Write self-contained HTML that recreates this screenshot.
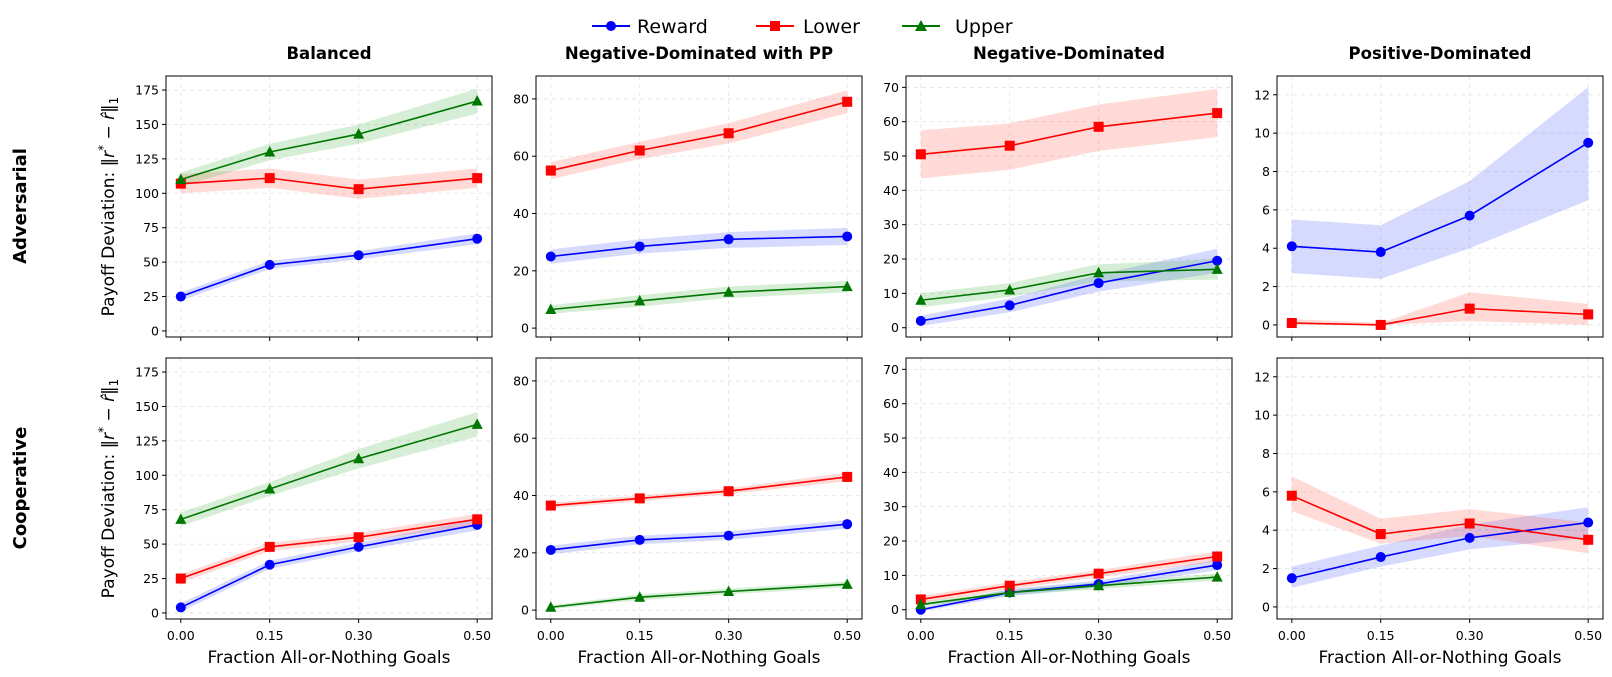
<!DOCTYPE html>
<html><head><meta charset="utf-8"><style>
html,body{margin:0;padding:0;background:#fff;}
svg{display:block;font-family:"DejaVu Sans","Liberation Sans",sans-serif;}
</style></head><body>
<svg id="chart" width="1612" height="677" viewBox="0 0 1612 677">
<g>
  <g>
    <line x1="592" y1="26" x2="630" y2="26" stroke="#0000ff" stroke-width="2"/><circle cx="611" cy="26" r="5" fill="#0000ff"/>
    <text x="637" y="33" font-size="19" fill="#000">Reward</text></g>
  <g>
    <line x1="756" y1="26" x2="794" y2="26" stroke="#ff0000" stroke-width="2"/><rect x="770" y="21" width="10" height="10" fill="#ff0000"/>
    <text x="803" y="33" font-size="19" fill="#000">Lower</text></g>
  <g>
    <line x1="902" y1="26" x2="940" y2="26" stroke="#007700" stroke-width="2"/><polygon points="921,20 927,31 915,31" fill="#007700"/>
    <text x="955" y="33" font-size="19" fill="#000">Upper</text></g>
</g>
<text transform="translate(26,206) rotate(-90)" text-anchor="middle" font-size="18" font-weight="bold">Adversarial</text>
<text transform="translate(26,488) rotate(-90)" text-anchor="middle" font-size="18" font-weight="bold">Cooperative</text>
<g id="panels"></g>
</svg>
<script>
const xValues=[0,0.15,0.30,0.50];
const xTickLabels=["0.00","0.15","0.30","0.50"];
const titles=["Balanced","Negative-Dominated with PP","Negative-Dominated","Positive-Dominated"];
const yTicks=[[0,25,50,75,100,125,150,175],[0,20,40,60,80],[0,10,20,30,40,50,60,70],[0,2,4,6,8,10,12]];
const yLims=[[-4.4,185.2],[-3.1,88],[-2.7,73.3],[-0.63,12.98]];
// Adversarial row
const advBalR=[25,48,55,67], advBalRlo=[22,45,52,63], advBalRhi=[28,51,58,71];
const advBalL=[107,111,103,111], advBalLlo=[100,104,96,104], advBalLhi=[114,118,110,118];
const advBalU=[110,130,143,167], advBalUlo=[105,124,136,158], advBalUhi=[115,136,150,176];
const advPPR=[25,28.5,31,32], advPPRlo=[22.5,26,28,29], advPPRhi=[27.5,31,33.5,35];
const advPPL=[55,62,68,79], advPPLlo=[52,59,64.5,75], advPPLhi=[58,65,71.5,83];
const advPPU=[6.5,9.5,12.5,14.5], advPPUlo=[5,7.5,10.5,12.5], advPPUhi=[8,11.5,14.5,16.5];
const advNegR=[2,6.5,13,19.5], advNegRlo=[0.5,4.5,10.5,16], advNegRhi=[3.5,8.5,15.5,23];
const advNegL=[50.5,53,58.5,62.5], advNegLlo=[43.5,46,51.5,55.5], advNegLhi=[57.5,59.5,65,69.5];
const advNegU=[8,11,16,17], advNegUlo=[6,9,13.5,14], advNegUhi=[10,13,18.5,20];
const advPosR=[4.1,3.8,5.7,9.5], advPosRlo=[2.7,2.4,4,6.5], advPosRhi=[5.5,5.2,7.5,12.4];
const advPosL=[0.1,0,0.85,0.55], advPosLlo=[0,0,0.2,0], advPosLhi=[0.3,0.1,1.7,1.1];
// Cooperative row
const coBalR=[4,35,48,64], coBalRlo=[1,32,45,60], coBalRhi=[7,38,51,68];
const coBalL=[25,48,55,68], coBalLlo=[22,45,52,64], coBalLhi=[28,51,58,72];
const coBalU=[68,90,112,137], coBalUlo=[63,85,105,128], coBalUhi=[73,95,119,146];
const coPPR=[21,24.5,26,30], coPPRlo=[19.5,23,24.5,28.5], coPPRhi=[22.5,26,27.5,31.5];
const coPPL=[36.5,39,41.5,46.5], coPPLlo=[35.5,38,40.5,45], coPPLhi=[37.5,40,42.5,48];
const coPPU=[1,4.5,6.5,9], coPPUlo=[0.3,3.5,5.5,8], coPPUhi=[1.7,5.5,7.5,10];
const coNegR=[0,5,7.5,13], coNegRlo=[-0.5,4,6.5,11.5], coNegRhi=[0.5,6,8.5,14.5];
const coNegL=[3,7,10.5,15.5], coNegLlo=[2,6,9.5,14], coNegLhi=[4,8,11.5,17];
const coNegU=[1.5,5,7,9.5], coNegUlo=[0.8,4.2,6,8.5], coNegUhi=[2.2,5.8,8,10.5];
const coPosR=[1.5,2.6,3.6,4.4], coPosRlo=[1,2.1,3,3.6], coPosRhi=[2.1,3.2,4.3,5.2];
const coPosL=[5.8,3.8,4.35,3.5], coPosLlo=[5,3.3,3.7,2.8], coPosLhi=[6.8,4.6,5.1,4.4];

const panelsData=[
 [[advBalR,advBalRlo,advBalRhi],[advBalL,advBalLlo,advBalLhi],[advBalU,advBalUlo,advBalUhi]],
 [[advPPR,advPPRlo,advPPRhi],[advPPL,advPPLlo,advPPLhi],[advPPU,advPPUlo,advPPUhi]],
 [[advNegR,advNegRlo,advNegRhi],[advNegL,advNegLlo,advNegLhi],[advNegU,advNegUlo,advNegUhi]],
 [[advPosR,advPosRlo,advPosRhi],[advPosL,advPosLlo,advPosLhi],null],
 [[coBalR,coBalRlo,coBalRhi],[coBalL,coBalLlo,coBalLhi],[coBalU,coBalUlo,coBalUhi]],
 [[coPPR,coPPRlo,coPPRhi],[coPPL,coPPLlo,coPPLhi],[coPPU,coPPUlo,coPPUhi]],
 [[coNegR,coNegRlo,coNegRhi],[coNegL,coNegLlo,coNegLhi],[coNegU,coNegUlo,coNegUhi]],
 [[coPosR,coPosRlo,coPosRhi],[coPosL,coPosLlo,coPosLhi],null]
];
const seriesNames=["reward","lower","upper"];
const colors=["#0000ff","#ff0000","#007700"];
const fills=["#3344ff","#ff4433","#33aa33"];
const NS="http://www.w3.org/2000/svg";
const root=document.getElementById('panels');
function mk(tag,attrs,parent){const e=document.createElementNS(NS,tag);for(const k in attrs)e.setAttribute(k,attrs[k]);parent.appendChild(e);return e;}
const PW=326, PH=261, lefts=[166,536,906,1277], tops=[76,358];
for(let p=0;p<8;p++){
  const col=p%4,row=Math.floor(p/4);
  const L=lefts[col],T=tops[row];
  const [y0,y1]=yLims[col];
  const xs=v=>L+14.8+v*(PW-29.6)/0.5;
  const ys=v=>T+PH-(v-y0)/(y1-y0)*PH;
  const g=mk('g',{},root);
  
  
  yTicks[col].forEach(t=>{
    const y=ys(t);
    const gl=mk('line',{x1:L,x2:L+PW,y1:y,y2:y,stroke:'#e2e2e2','stroke-width':0.8,'stroke-dasharray':'4,4'},g);
    
    
    mk('line',{x1:L-4,x2:L,y1:y,y2:y,stroke:'#000','stroke-width':1},g);
    const tx=mk('text',{x:L-7,y:y+4.5,'text-anchor':'end','font-size':12.5},g);
    tx.textContent=t;
    
    
  });
  xValues.forEach((v,i)=>{
    const x=xs(v);
    mk('line',{x1:x,x2:x,y1:T,y2:T+PH,stroke:'#e2e2e2','stroke-width':0.8,'stroke-dasharray':'4,4'},g);
    mk('line',{x1:x,x2:x,y1:T+PH,y2:T+PH+4,stroke:'#000','stroke-width':1},g);
    if(row===1){
      const tx=mk('text',{x:x,y:T+PH+21,'text-anchor':'middle','font-size':12.5},g);
      tx.textContent=xTickLabels[i];
      
      
    }
  });
  panelsData[p].forEach((s,si)=>{
    if(!s)return;
    const [m,lo,hi]=s;
    let d='M'+xValues.map((v,i)=>xs(v)+','+ys(hi[i])).join('L')+'L'+xValues.slice().reverse().map((v,j)=>{const i=xValues.length-1-j;return xs(v)+','+ys(lo[i]);}).join('L')+'Z';
    const band=mk('path',{d:d,fill:fills[si],'fill-opacity':0.2,stroke:'none'},g);
    
    
  });
  panelsData[p].forEach((s,si)=>{
    if(!s)return;
    const m=s[0];
    const ln=mk('polyline',{points:xValues.map((v,i)=>xs(v)+','+ys(m[i])).join(' '),fill:'none',stroke:colors[si],'stroke-width':1.6},g);
    
    
    xValues.forEach((v,i)=>{
      const x=xs(v),y=ys(m[i]);let mkEl;
      if(si===0)mkEl=mk('circle',{cx:x,cy:y,r:5,fill:colors[0]},g);
      else if(si===1)mkEl=mk('rect',{x:x-5,y:y-5,width:10,height:10,fill:colors[1]},g);
      else mkEl=mk('polygon',{points:`${x},${y-6} ${x+5.5},${y+4.5} ${x-5.5},${y+4.5}`,fill:colors[2]},g);
      
      
    });
  });
  const fr=mk('rect',{x:L,y:T,width:PW,height:PH,fill:'none',stroke:'#000','stroke-width':1},g);
  
  
  if(row===0){
    const tt=mk('text',{x:L+PW/2,y:59,'text-anchor':'middle','font-size':16.5,'font-weight':'bold'},g);
    tt.textContent=titles[col];
    
    
  } else {
    const xl=mk('text',{x:L+PW/2,y:663,'text-anchor':'middle','font-size':17},g);
    xl.textContent='Fraction All-or-Nothing Goals';
    
    
  }
  if(col===0){
    const yl=mk('text',{transform:`translate(114,${T+PH/2}) rotate(-90)`,'text-anchor':'middle','font-size':17},g);
    yl.innerHTML='Payoff Deviation: ‖<tspan font-style="italic">r</tspan><tspan dy="-7" font-size="12">*</tspan><tspan dy="7"> − </tspan><tspan font-style="italic">r̂</tspan>‖<tspan dy="4" font-size="12">1</tspan>';
    
    
  }
}
</script>
</body></html>
